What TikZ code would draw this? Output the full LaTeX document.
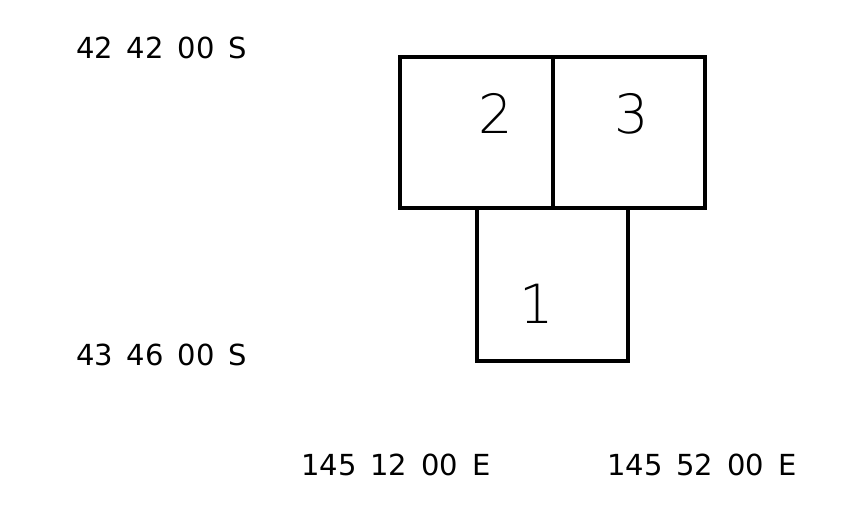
\documentclass[tikz,border=0pt]{standalone}
\usepackage{fontspec}
\setmainfont{DejaVu Sans}
\newfontfamily\thinfont{DejaVu Sans ExtraLight}
\usepackage{tikz}

\tikzset{
	coordlabel/.style={anchor=base west, inner sep=0pt, font=\fontsize{29}{32}\selectfont},
	sheetnum/.style={anchor=base, inner sep=0pt, font=\thinfont\fontsize{54}{60}\selectfont}
}
\newcommand{\gap}{\hspace{0.48em}}

\begin{document}
\begin{tikzpicture}[x=1pt, y=-1pt]
		%%%%% START %%%%%
		
		\useasboundingbox[fill=white] (0, 0) rectangle (859, 523);
		
		\draw[line width=3.2pt] (400, 57) rectangle (553, 208);
		\draw[line width=3.2pt] (553, 57) rectangle (705, 208);
		\draw[line width=3.2pt] (477, 208) rectangle (628, 361);
		
		\node[sheetnum] (sheettwo) at (496, 133) {2};
		\node[sheetnum] (sheetthree) at (632, 133) {3};
		\node[sheetnum] (sheetone) at (537, 323) {1};
		
		\node[coordlabel] (latnorth) at (76, 58) {42\gap 42\gap 00\gap S};
		\node[coordlabel] (latsouth) at (76, 365) {43\gap 46\gap 00\gap S};
		
		\node[coordlabel] (lonwest) at (301, 475) {145\gap 12\gap 00\gap E};
		\node[coordlabel] (loneast) at (607, 475) {145\gap 52\gap 00\gap E};
		
		%%%%% END %%%%%
	\end{tikzpicture}
\end{document}
